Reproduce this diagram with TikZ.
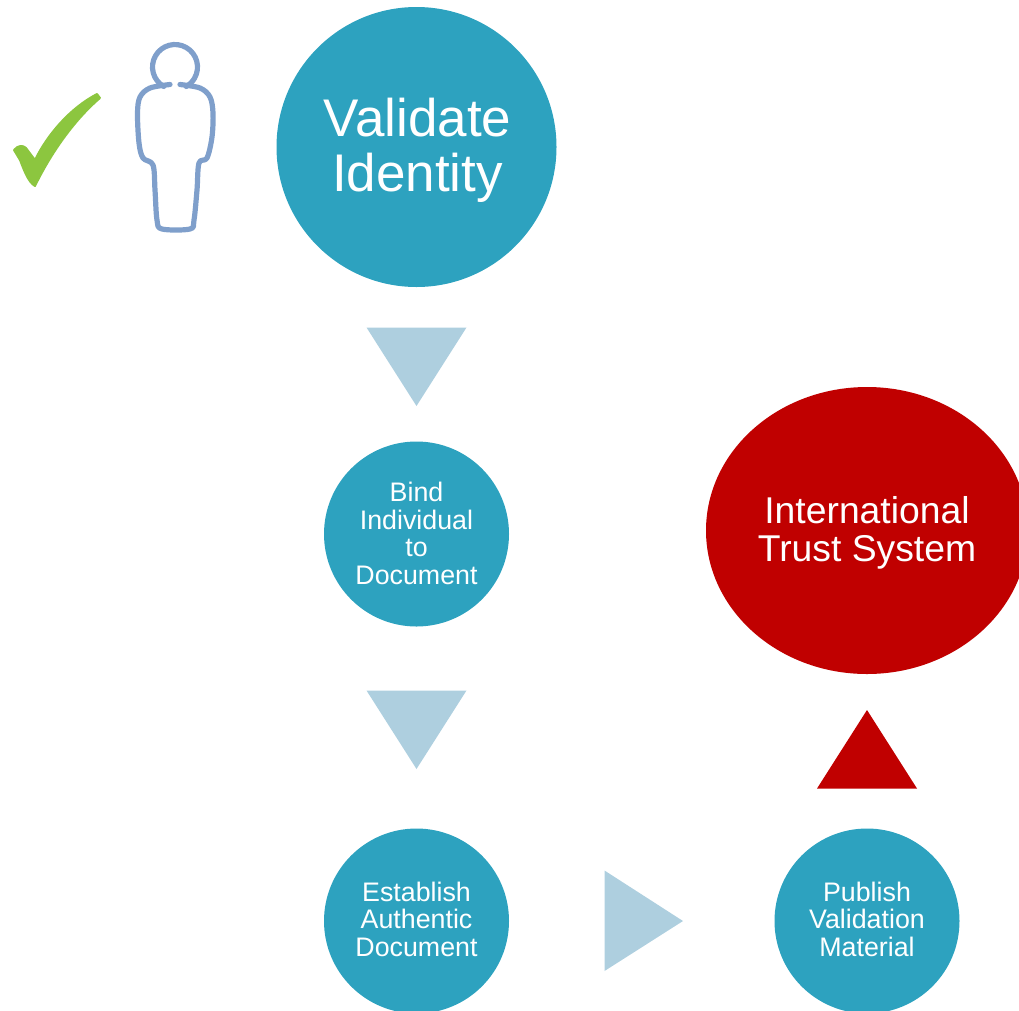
\documentclass[tikz,border=0pt]{standalone}
\usepackage{fontspec}
\setmainfont{Liberation Sans}
\usetikzlibrary{shapes.geometric}
\definecolor{teal}{HTML}{2DA2BF}
\definecolor{pale}{HTML}{AECFDF}
\definecolor{crimson}{HTML}{C00000}
\definecolor{figure}{HTML}{7F9FCB}
\definecolor{tick}{HTML}{8CC63F}
\begin{document}
\begin{tikzpicture}[x=1pt,y=-1pt,
    stage/.style={circle,fill=teal,inner sep=0pt,minimum size=185pt},
    big/.style={stage,minimum size=280pt},
    goal/.style={ellipse,fill=crimson,inner sep=0pt,minimum width=322pt,minimum height=287pt},
    caption/.style={text=white,inner sep=0pt,align=center,font=\fontsize{26.8}{27.5}\selectfont},
    bigcaption/.style={caption,font=\fontsize{53}{55}\selectfont},
    goalcaption/.style={caption,font=\fontsize{37.3}{37.5}\selectfont},
    pointer/.style={fill=pale},
    outline/.style={draw=figure,line width=5.2pt,line cap=round,line join=round}]
\useasboundingbox (0,0) rectangle (1019,1010);
\node[big]   (validate)  at (416.5,147) {};
\node[stage] (bind)      at (416.5,534) {};
\node[stage] (establish) at (416.5,921) {};
\node[stage] (publish)   at (867,921)   {};
\node[goal]  (trust)     at (867,530.5) {};
\node[bigcaption,xshift=1pt,yshift=-3pt] (validatetext)  at (validate)  {Validate\\Identity};
\node[caption,yshift=0.7pt]      (bindtext)      at (bind)      {Bind\\Individual\\to\\Document};
\node[caption,yshift=1.7pt]      (establishtext) at (establish) {Establish\\Authentic\\Document};
\node[caption,yshift=1.7pt]      (publishtext)   at (publish)   {Publish\\Validation\\Material};
\node[goalcaption,yshift=-2.5pt] (trusttext)     at (trust)     {International\\Trust System};
\fill[pointer] (366.5,327.5) -- (466.5,327.5) -- (416.5,406) -- cycle;
\fill[pointer] (366.5,690.5) -- (466.5,690.5) -- (416.5,769) -- cycle;
\fill[pointer] (604.5,870.5) -- (604.5,971) -- (683,921) -- cycle;
\fill[crimson] (817,788.5) -- (917,788.5) -- (867,710) -- cycle;
\fill[tick,draw=tick,line width=2pt,line join=round]
  (14,150) .. controls (18,145) and (23,145) .. (26,148) .. controls (29,152) and (32,156) .. (35,160)
  .. controls (47,135) and (70,108) .. (97,94) -- (100,98) .. controls (80,115) and (55,145) .. (35,186)
  .. controls (28,182) and (24,170) .. (20,160) -- cycle;
\draw[outline] (163.75,86.5) arc[start angle=240,end angle=-60,radius=22.5pt];
\draw[outline] plot[smooth,tension=0.55] coordinates {(170,84.5) (150,88) (140,97) (137.5,113) (139,143) (143,158)
  (153,165) (155,190) (157,220) (162,229) (190,229) (194,220) (197,190) (199,163) (207,158)
  (212,137) (213,113) (210,97) (200,88) (180,84.5)};
\end{tikzpicture}
\end{document}
